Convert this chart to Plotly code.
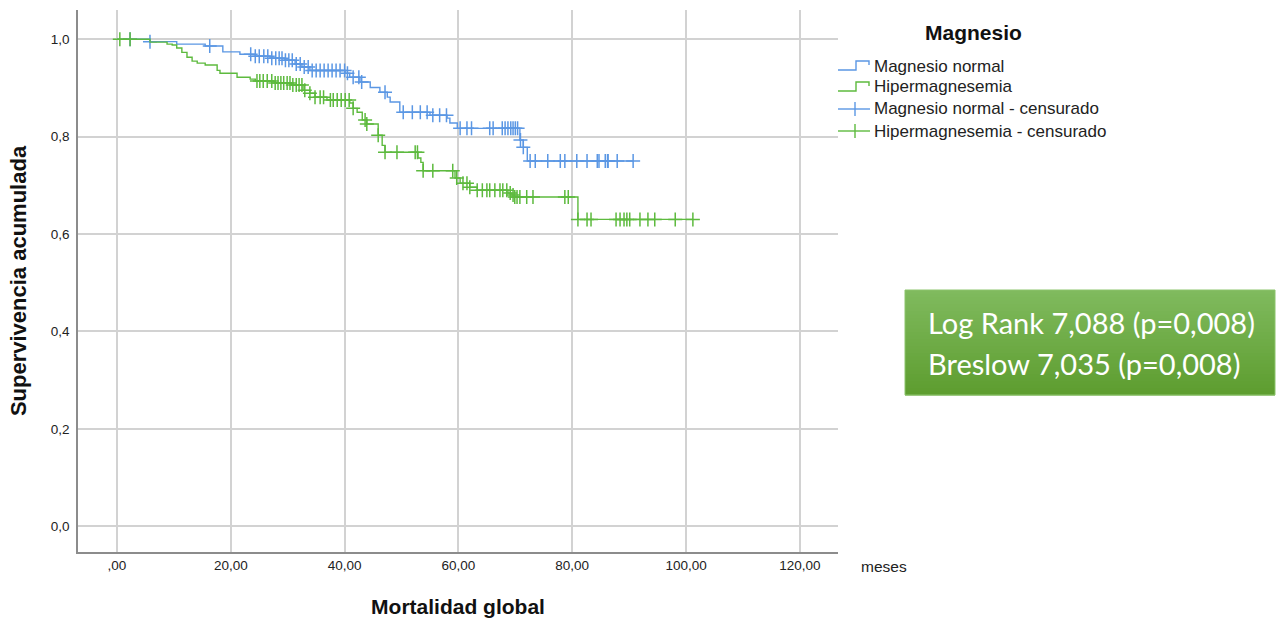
import numpy as np
import plotly.graph_objects as go

# ---------------- data ----------------
# Kaplan-Meier step function: Magnesio normal
normal_t = [0, 5.8, 10.5, 15.5, 18.6, 21.6, 24.3, 26.9, 29.5, 31.3, 32.5, 33.9, 40.1, 40.9,
            42.7, 44.5, 46.2, 47.5, 48.0, 49.7, 55.0, 58.0, 58.5, 59.8, 70.8, 71.4, 72.1]
normal_s = [1.0, 0.995, 0.990, 0.986, 0.974, 0.969, 0.965, 0.961, 0.957, 0.949, 0.943, 0.936, 0.930, 0.922,
            0.912, 0.901, 0.891, 0.881, 0.871, 0.850, 0.844, 0.838, 0.828, 0.817, 0.793, 0.778, 0.750]
normal_cens = [2.3, 5.8, 16.3, 23.5, 24.3, 25.0, 25.8, 26.5, 27.2, 27.9, 28.5, 29.0, 29.6, 30.2,
               30.8, 31.5, 32.2, 32.9, 33.6, 34.3, 35.0, 35.7, 36.4, 37.1, 37.8, 38.5, 39.2, 40.0,
               40.5, 41.5, 42.5, 43.0, 47.1, 50.3, 51.9, 53.3, 54.5, 55.5, 56.7, 57.9, 60.3, 61.5,
               62.3, 65.5, 66.1, 67.7, 68.2, 68.7, 69.2, 69.6, 70.0, 70.4, 70.9, 71.4, 72.6, 73.5,
               75.7, 77.9, 78.7, 80.8, 82.6, 84.4, 84.7, 85.8, 86.2, 86.3, 87.9, 90.7]

# Kaplan-Meier step function: Hipermagnesemia
hiper_t = [0, 5.8, 8.8, 9.7, 10.5, 11.4, 12.3, 13.2, 14.1, 15.5, 17.6, 18.1, 21.1, 23.4, 24.3,
           27.8, 30.7, 32.7, 33.9, 34.8, 36.9, 40.9, 41.5, 42.2, 43.1, 43.9, 45.9, 46.6, 47.1,
           52.9, 53.4, 53.8, 59.4, 60.3, 62.0, 63.3, 68.7, 69.4, 69.9, 81.0]
hiper_s = [1.0, 0.994, 0.990, 0.988, 0.982, 0.973, 0.963, 0.955, 0.951, 0.947, 0.936, 0.930, 0.922, 0.918, 0.914,
           0.910, 0.906, 0.895, 0.889, 0.881, 0.875, 0.869, 0.858, 0.850, 0.834, 0.826, 0.803, 0.782, 0.768,
           0.756, 0.747, 0.730, 0.715, 0.704, 0.696, 0.690, 0.684, 0.680, 0.676, 0.630]
hiper_cens = [0.5, 2.3, 24.6, 25.1, 25.7, 26.4, 27.2, 27.8, 28.3, 28.8, 29.3, 29.9, 30.4, 30.9,
              31.5, 32.0, 32.5, 33.0, 33.9, 34.8, 35.7, 36.3, 37.5, 38.0, 38.7, 39.4, 40.1, 40.8,
              41.5, 43.6, 43.9, 45.9, 47.1, 49.2, 52.4, 52.8, 53.8, 55.5, 59.0, 59.7, 60.8, 61.5,
              62.0, 63.3, 64.2, 65.0, 65.5, 66.4, 67.3, 67.8, 68.5, 69.1, 69.6, 69.9, 70.3, 70.8,
              72.0, 73.1, 78.7, 79.3, 81.0, 82.6, 83.3, 87.7, 88.4, 89.1, 89.6, 90.1, 91.9, 93.3,
              94.5, 98.1, 101.2]

x_tickvals = [0, 20, 40, 60, 80, 100, 120]
x_ticktext = [",00", "20,00", "40,00", "60,00", "80,00", "100,00", "120,00"]
y_tickvals = [0.0, 0.2, 0.4, 0.6, 0.8, 1.0]
y_ticktext = ["0,0", "0,2", "0,4", "0,6", "0,8", "1,0"]

legend_labels = ["Magnesio normal", "Hipermagnesemia",
                 "Magnesio normal - censurado", "Hipermagnesemia - censurado"]
stats_lines = ["Log Rank 7,088 (p=0,008)", "Breslow 7,035 (p=0,008)"]

BLUE = "#5b97e4"
GREEN = "#5dba3e"

W, H = 1277, 618
L, R, T, B = 78, 838, 10, 552  # plot area in px


def px(xp):
    return (xp - L) / (R - L)


def py(yp):
    return (B - yp) / (B - T)


def surv_at(times, tt, ss):
    idx = np.searchsorted(np.array(tt), np.array(times), side="right") - 1
    return np.array(ss)[idx]


fig = go.Figure()

for tt, ss, cens, col in [(normal_t, normal_s, normal_cens, BLUE),
                          (hiper_t, hiper_s, hiper_cens, GREEN)]:
    xs = list(tt) + [max(cens)]
    ys = list(ss) + [ss[-1]]
    fig.add_trace(go.Scatter(x=xs, y=ys, mode="lines", line=dict(color=col, width=1.4, shape="hv"),
                             showlegend=False, hoverinfo="skip"))
    fig.add_trace(go.Scatter(x=cens, y=surv_at(cens, tt, ss), mode="markers",
                             marker=dict(symbol="cross-thin", size=10, line=dict(color=col, width=1.5)),
                             showlegend=False, hoverinfo="skip"))

shapes = []
annotations = []

# custom legend
annotations.append(dict(x=px(973), y=py(32), xref="paper", yref="paper", text="<b>Magnesio</b>",
                        showarrow=False, font=dict(family="Liberation Sans", size=21, color="#111"),
                        xanchor="center", yanchor="middle"))
rows = [66, 87, 109, 131]
cols = [BLUE, GREEN, BLUE, GREEN]
for i, (r, c, lab) in enumerate(zip(rows, cols, legend_labels)):
    if i < 2:
        path = "M{},{} L{},{} L{},{} L{},{} L{},{}".format(
            px(838), py(r + 4), px(856), py(r + 4), px(856), py(r - 5), px(869), py(r - 5), px(869), py(r - 1))
        shapes.append(dict(type="path", path=path, xref="paper", yref="paper",
                           line=dict(color=c, width=1.4)))
    else:
        shapes.append(dict(type="line", x0=px(838), x1=px(870), y0=py(r), y1=py(r), xref="paper", yref="paper",
                           line=dict(color=c, width=1.4)))
        shapes.append(dict(type="line", x0=px(855), x1=px(855), y0=py(r - 7), y1=py(r + 7), xref="paper",
                           yref="paper", line=dict(color=c, width=1.4)))
    annotations.append(dict(x=px(872), y=py(r), xref="paper", yref="paper", text=lab, showarrow=False,
                            font=dict(family="Liberation Sans", size=17, color="#222"),
                            xanchor="left", yanchor="middle"))

# green stats box with a vertical gradient
n_band = 30
top_c = np.array([128, 186, 94])
bot_c = np.array([94, 158, 48])
y0b, y1b = 290, 395
for k in range(n_band):
    f = k / (n_band - 1)
    c = top_c + (bot_c - top_c) * f
    ya = y0b + (y1b - y0b) * k / n_band
    yb = y0b + (y1b - y0b) * (k + 1) / n_band + 0.6
    shapes.append(dict(type="rect", xref="paper", yref="paper", x0=px(905), x1=px(1275),
                       y0=py(yb), y1=py(ya), line=dict(width=0),
                       fillcolor="rgb({},{},{})".format(int(c[0]), int(c[1]), int(c[2]))))
shapes.append(dict(type="rect", xref="paper", yref="paper", x0=px(905), x1=px(1275),
                   y0=py(y1b), y1=py(y0b), line=dict(color="#8cc46c", width=1), fillcolor="rgba(0,0,0,0)"))
for yy, txt in zip([322, 363], stats_lines):
    annotations.append(dict(x=px(926), y=py(yy), xref="paper", yref="paper", text=txt, showarrow=False,
                            font=dict(family="Lato", size=29, color="white"),
                            xanchor="left", yanchor="middle"))

# "meses" label
annotations.append(dict(x=px(884), y=py(566), xref="paper", yref="paper", text="meses", showarrow=False,
                        font=dict(family="Liberation Sans", size=15.5, color="#222"),
                        xanchor="center", yanchor="middle"))

fig.update_layout(
    width=W, height=H,
    margin=dict(l=L, r=W - R, t=T, b=H - B),
    paper_bgcolor="white", plot_bgcolor="white",
    shapes=shapes, annotations=annotations,
    showlegend=False,
    xaxis=dict(range=[-6.85, 126.7], tickvals=x_tickvals, ticktext=x_ticktext, automargin=False,
               showgrid=True, gridcolor="#d2d2d2", gridwidth=1.6, zeroline=False,
               showline=True, linecolor="#8c8c8c", linewidth=1.5, ticks="",
               tickfont=dict(family="Liberation Sans", size=13.5, color="#222"),
               title=dict(text="<b>Mortalidad global</b>", standoff=28,
                          font=dict(family="Liberation Sans", size=21, color="#111"))),
    yaxis=dict(range=[-0.053, 1.06], tickvals=y_tickvals, ticktext=y_ticktext, automargin=False,
               showgrid=True, gridcolor="#d2d2d2", gridwidth=1.6, zeroline=False,
               showline=True, linecolor="#8c8c8c", linewidth=1.5, ticks="",
               ticklabelstandoff=4,
               tickfont=dict(family="Liberation Sans", size=13.5, color="#222"),
               title=dict(text="<b>Supervivencia acumulada</b>", standoff=18,
                          font=dict(family="Liberation Sans", size=22, color="#111"))),
)

fig.write_html("out.html", config={"displayModeBar": False},
               post_script="document.body.style.margin='0px';document.body.style.overflow='hidden';")
